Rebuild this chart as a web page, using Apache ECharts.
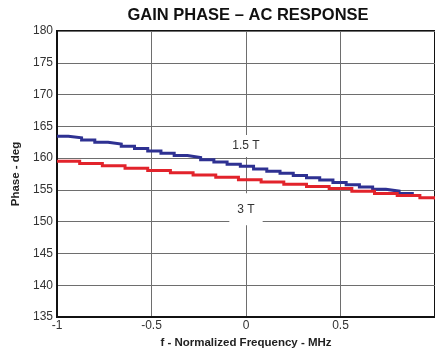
<!DOCTYPE html>
<html>
<head>
<meta charset="utf-8">
<script src="https://cdn.jsdelivr.net/npm/echarts@6/dist/echarts.min.js"></script>
<style>
  html, body { margin: 0; padding: 0; background: #fff; }
  #chart { width: 435px; height: 354px; }
</style>
</head>
<body>
<div id="chart"></div>
<script>
// frequency (MHz, normalized) where each step starts
var freq15T = [-1.00, -0.94, -0.87, -0.80, -0.73, -0.66, -0.59, -0.52, -0.45, -0.38,
  -0.31, -0.24, -0.17, -0.10, -0.03, 0.04, 0.11, 0.18, 0.25, 0.32,
  0.39, 0.46, 0.53, 0.60, 0.67, 0.74, 0.81, 0.88, 0.92];
var phase15T = [163.45, 163.2, 162.85, 162.5, 162.2, 161.85, 161.5, 161.1, 160.75, 160.4,
  160.1, 159.75, 159.4, 159.05, 158.7, 158.3, 157.95, 157.6, 157.25, 156.9,
  156.55, 156.15, 155.8, 155.45, 155.1, 154.8, 154.45, 154.1, 154.1];

var freq3T = [-1.00, -0.88, -0.76, -0.64, -0.52, -0.40, -0.28, -0.16, -0.04, 0.08,
  0.20, 0.32, 0.44, 0.56, 0.68, 0.80, 0.92, 1.00];
var phase3T = [159.5, 159.15, 158.8, 158.4, 158.05, 157.7, 157.35, 157.0, 156.6, 156.25,
  155.9, 155.55, 155.2, 154.8, 154.45, 154.1, 153.75, 153.5];

// curve labels: [x, y, text]
var curveLabels = [[0, 161.9, '1.5 T'], [0, 151.95, '3 T']];

function pairs(xs, ys) {
  return xs.map(function (x, i) { return [x, ys[i]]; });
}

var chart = echarts.init(document.getElementById('chart'));
chart.setOption({
  animation: false,
  title: {
    text: 'GAIN PHASE \u2013 AC RESPONSE',
    left: 243,
    textAlign: 'center',
    top: 2,
    textStyle: { fontFamily: 'Liberation Sans', fontSize: 16.5, fontWeight: 'bold', color: '#111' }
  },
  grid: {
    left: 57, top: 31, width: 381, height: 287,
    show: true, borderColor: '#111', borderWidth: 2
  },
  xAxis: {
    type: 'value', min: -1, max: 1, interval: 0.5,
    name: 'f - Normalized Frequency - MHz',
    nameLocation: 'middle', nameGap: 20,
    nameTextStyle: { fontFamily: 'Liberation Sans', fontSize: 11.5, fontWeight: 'bold', color: '#222' },
    axisLine: { onZero: false, lineStyle: { color: '#111', width: 2 } },
    axisTick: { show: false },
    axisLabel: { showMaxLabel: false, margin: 3, fontFamily: 'Liberation Sans', fontSize: 12, color: '#333' },
    splitLine: { lineStyle: { color: '#6e6e6e', width: 1 } }
  },
  yAxis: {
    type: 'value', min: 135, max: 180, interval: 5,
    name: 'Phase - deg',
    nameLocation: 'middle', nameGap: 34, nameRotate: 90,
    nameTextStyle: { fontFamily: 'Liberation Sans', fontSize: 11.5, fontWeight: 'bold', color: '#222' },
    axisLine: { onZero: false, lineStyle: { color: '#111', width: 2 } },
    axisTick: { show: false },
    axisLabel: { margin: 4, fontFamily: 'Liberation Sans', fontSize: 12, color: '#333' },
    splitLine: { lineStyle: { color: '#6e6e6e', width: 1 } }
  },
  series: [
    {
      name: '1.5 T', type: 'line', step: 'end', symbol: 'none',
      data: pairs(freq15T, phase15T),
      lineStyle: { color: '#2e3192', width: 3, join: 'miter' },
      markPoint: {
        symbol: 'rect', symbolSize: 0,
        data: curveLabels.map(function (l, i) {
          return {
            coord: [l[0], l[1]],
            label: {
              show: true, formatter: l[2], position: 'inside',
              backgroundColor: '#fff',
              padding: i === 0 ? [5, 6, 5, 6] : [10, 8, 10, 8],
              fontFamily: 'Liberation Sans', fontSize: 12, color: '#333'
            }
          };
        })
      }
    },
    {
      name: '3 T', type: 'line', step: 'end', symbol: 'none',
      data: pairs(freq3T, phase3T),
      lineStyle: { color: '#e2232b', width: 3, join: 'miter' }
    }
  ]
});
</script>
</body>
</html>
